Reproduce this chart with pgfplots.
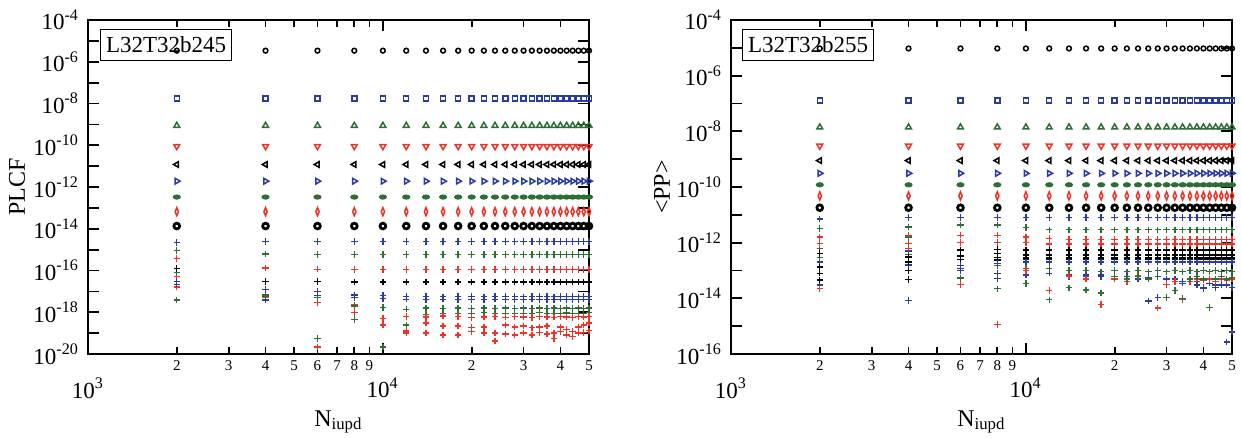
\documentclass[border=0pt]{standalone}
\usepackage{fontspec}
\setmainfont{Liberation Serif}
\usepackage{pgfplots}
\pgfplotsset{compat=1.18}
\usepackage{pgfplotstable}
\definecolor{gblue}{HTML}{2B3C9E}
\definecolor{ggreen}{HTML}{2E6E34}
\definecolor{gred}{HTML}{EE3228}

% PLCF, L32T32b245: constant levels a1..a9, scattered plus series p1..p11
\pgfplotstableread{
x a1 a2 a3 a4 a5 a6 a7 a8 a9 p1 p2 p3 p4 p5 p6 p7 p8 p9 p10 p11
2000 3.4e-6 1.7e-8 8.7e-10 8.9e-11 1.2e-11 1.9e-12 3.3e-13 6.6e-14 1.35e-14 2.2e-15 8.9e-16 3.8e-16 1.26e-16 3.0e-17 8.0e-17 5.0e-17 2.2e-17 3.9e-18 2.2e-17 1.6e-17
4000 3.4e-6 1.7e-8 8.7e-10 8.9e-11 1.2e-11 1.9e-12 3.3e-13 6.6e-14 1.35e-14 2.5e-15 6.3e-16 1.3e-16 3.0e-17 1.2e-17 6.8e-18 6.8e-18 3.9e-18 6.0e-18 6.8e-18 5.0e-18
6000 3.4e-6 1.7e-8 8.7e-10 8.9e-11 1.2e-11 1.9e-12 3.3e-13 6.6e-14 1.35e-14 2.5e-15 6.0e-16 1.15e-16 2.9e-17 1.0e-17 5.0e-18 5.0e-18 6.3e-18 5.6e-20 2.2e-20 3.0e-18
8000 3.4e-6 1.7e-8 8.7e-10 8.9e-11 1.2e-11 1.9e-12 3.3e-13 6.6e-14 1.35e-14 2.5e-15 6.0e-16 1.1e-16 2.8e-17 6.8e-18 2.0e-18 2.2e-18 5.0e-18 4.6e-19 2.0e-18 1.0e-18
10000 3.4e-6 1.7e-8 8.7e-10 8.9e-11 1.2e-11 1.9e-12 3.3e-13 6.6e-14 1.35e-14 2.5e-15 6.0e-16 1.1e-16 2.8e-17 6.5e-18 1.7e-18 5.0e-19 4.5e-18 2.2e-20 5.0e-19 2.5e-19
12000 3.4e-6 1.7e-8 8.7e-10 8.9e-11 1.2e-11 1.9e-12 3.3e-13 6.6e-14 1.35e-14 2.5e-15 6.0e-16 1.1e-16 2.8e-17 5.6e-18 1.4e-18 6.3e-19 4.2e-18 2.5e-19 1.26e-19 1.0e-19
14000 3.4e-6 1.7e-8 8.7e-10 8.9e-11 1.2e-11 1.9e-12 3.3e-13 6.6e-14 1.35e-14 2.5e-15 6.0e-16 1.1e-16 2.8e-17 5.8e-18 1.6e-18 6.0e-19 4.0e-18 8.0e-19 3.0e-19 1.0e-19
16000 3.4e-6 1.7e-8 8.7e-10 8.9e-11 1.2e-11 1.9e-12 3.3e-13 6.6e-14 1.35e-14 2.5e-15 6.0e-16 1.1e-16 2.8e-17 5.5e-18 1.5e-18 6.5e-19 4.2e-18 9.0e-19 2.2e-19 8.0e-20
18000 3.4e-6 1.7e-8 8.7e-10 8.9e-11 1.2e-11 1.9e-12 3.3e-13 6.6e-14 1.35e-14 2.5e-15 6.0e-16 1.1e-16 2.8e-17 5.6e-18 1.6e-18 6.3e-19 4.0e-18 8.5e-19 2.2e-19 8.0e-20
20000 3.4e-6 1.7e-8 8.7e-10 8.9e-11 1.2e-11 1.9e-12 3.3e-13 6.6e-14 1.35e-14 2.5e-15 6.0e-16 1.1e-16 2.8e-17 5.7e-18 1.5e-18 5.5e-19 4.1e-18 9.0e-19 1.9e-19 1.2e-19
22000 3.4e-6 1.7e-8 8.7e-10 8.9e-11 1.2e-11 1.9e-12 3.3e-13 6.6e-14 1.35e-14 2.5e-15 6.0e-16 1.1e-16 2.8e-17 5.5e-18 1.6e-18 6.0e-19 4.0e-18 9.5e-19 2.0e-19 1.0e-19
24000 3.4e-6 1.7e-8 8.7e-10 8.9e-11 1.2e-11 1.9e-12 3.3e-13 6.6e-14 1.35e-14 2.5e-15 6.0e-16 1.1e-16 2.8e-17 5.6e-18 1.5e-18 6.2e-19 4.2e-18 8.5e-19 4.2e-20 1.0e-19
26000 3.4e-6 1.7e-8 8.7e-10 8.9e-11 1.2e-11 1.9e-12 3.3e-13 6.6e-14 1.35e-14 2.5e-15 6.0e-16 1.1e-16 2.8e-17 5.8e-18 1.6e-18 5.8e-19 4.0e-18 9.0e-19 2.5e-19 9.0e-20
28000 3.4e-6 1.7e-8 8.7e-10 8.9e-11 1.2e-11 1.9e-12 3.3e-13 6.6e-14 1.35e-14 2.5e-15 6.0e-16 1.1e-16 2.8e-17 5.6e-18 1.5e-18 6.3e-19 4.1e-18 9.0e-19 2.0e-19 8.0e-20
30000 3.4e-6 1.7e-8 8.7e-10 8.9e-11 1.2e-11 1.9e-12 3.3e-13 6.6e-14 1.35e-14 2.5e-15 6.0e-16 1.1e-16 2.8e-17 5.5e-18 1.6e-18 6.0e-19 4.0e-18 8.5e-19 2.2e-19 1.0e-19
32000 3.4e-6 1.7e-8 8.7e-10 8.9e-11 1.2e-11 1.9e-12 3.3e-13 6.6e-14 1.35e-14 2.5e-15 6.0e-16 1.1e-16 2.8e-17 5.6e-18 1.5e-18 5.5e-19 4.2e-18 9.0e-19 1.8e-19 8.0e-20
34000 3.4e-6 1.7e-8 8.7e-10 8.9e-11 1.2e-11 1.9e-12 3.3e-13 6.6e-14 1.35e-14 2.5e-15 6.0e-16 1.1e-16 2.8e-17 5.7e-18 1.6e-18 6.3e-19 4.0e-18 9.5e-19 2.0e-19 1.1e-19
36000 3.4e-6 1.7e-8 8.7e-10 8.9e-11 1.2e-11 1.9e-12 3.3e-13 6.6e-14 1.35e-14 2.5e-15 6.0e-16 1.1e-16 2.8e-17 5.6e-18 1.5e-18 6.0e-19 4.1e-18 9.0e-19 2.2e-19 9.0e-20
38000 3.4e-6 1.7e-8 8.7e-10 8.9e-11 1.2e-11 1.9e-12 3.3e-13 6.6e-14 1.35e-14 2.5e-15 6.0e-16 1.1e-16 2.8e-17 5.5e-18 1.6e-18 5.8e-19 4.0e-18 8.8e-19 5.6e-20 1.0e-19
40000 3.4e-6 1.7e-8 8.7e-10 8.9e-11 1.2e-11 1.9e-12 3.3e-13 6.6e-14 1.35e-14 2.5e-15 6.0e-16 1.1e-16 2.8e-17 5.6e-18 1.5e-18 6.2e-19 4.2e-18 9.0e-19 2.0e-19 1.2e-19
42000 3.4e-6 1.7e-8 8.7e-10 8.9e-11 1.2e-11 1.9e-12 3.3e-13 6.6e-14 1.35e-14 2.5e-15 6.0e-16 1.1e-16 2.8e-17 5.7e-18 1.6e-18 6.0e-19 4.0e-18 9.2e-19 1.5e-19 8.0e-20
44000 3.4e-6 1.7e-8 8.7e-10 8.9e-11 1.2e-11 1.9e-12 3.3e-13 6.6e-14 1.35e-14 2.5e-15 6.0e-16 1.1e-16 2.8e-17 5.6e-18 1.5e-18 5.6e-19 4.1e-18 8.5e-19 1.2e-19 7.0e-20
46000 3.4e-6 1.7e-8 8.7e-10 8.9e-11 1.2e-11 1.9e-12 3.3e-13 6.6e-14 1.35e-14 2.5e-15 6.0e-16 1.1e-16 2.8e-17 5.5e-18 1.6e-18 6.2e-19 4.0e-18 9.0e-19 2.0e-19 1.0e-19
48000 3.4e-6 1.7e-8 8.7e-10 8.9e-11 1.2e-11 1.9e-12 3.3e-13 6.6e-14 1.35e-14 2.5e-15 6.0e-16 1.1e-16 2.8e-17 5.6e-18 1.5e-18 6.0e-19 4.2e-18 9.0e-19 2.5e-19 1.1e-19
50000 3.4e-6 1.7e-8 8.7e-10 8.9e-11 1.2e-11 1.9e-12 3.3e-13 6.6e-14 1.35e-14 2.5e-15 6.0e-16 1.1e-16 2.8e-17 5.7e-18 1.6e-18 6.3e-19 4.0e-18 9.5e-19 3.0e-19 1.3e-19
}\plcf

% <PP>, L32T32b255: constant levels b1..b9, scattered plus series q1..q14
\pgfplotstableread{
x b1 b2 b3 b4 b5 b6 b7 b8 b9 q1 q2 q3 q4 q5 q6 q7 q8 q9 q10 q11 q12 q13 q14
2000 9.5e-6 1.3e-7 1.4e-8 3.0e-9 8.9e-10 3.1e-10 1.2e-10 4.8e-11 1.8e-11 7.2e-12 3.2e-12 1.6e-12 9.3e-13 4.1e-13 1.35e-13 2.0e-13 8.0e-14 4.5e-14 3.0e-13 2.2e-14 3.0e-14 6.3e-13 6.3e-13
4000 9.5e-6 1.3e-7 1.4e-8 3.0e-9 8.9e-10 3.1e-10 1.2e-10 4.8e-11 1.8e-11 8.0e-12 3.7e-12 1.85e-12 9.3e-13 3.1e-13 2.0e-13 1.6e-13 1.0e-13 4.8e-14 3.7e-13 6.3e-13 8.5e-15 1.6e-12 5.0e-13
6000 9.5e-6 1.3e-7 1.4e-8 3.0e-9 8.9e-10 3.1e-10 1.2e-10 4.8e-11 1.8e-11 8.0e-12 4.3e-12 1.85e-12 1.0e-12 5.4e-13 3.5e-13 1.55e-13 3.2e-13 2.5e-13 5.4e-14 3.2e-14 1.2e-13 2.5e-13 1.0e-13
8000 9.5e-6 1.3e-7 1.4e-8 3.0e-9 8.9e-10 3.1e-10 1.2e-10 4.8e-11 1.8e-11 8.0e-12 4.3e-12 1.85e-12 1.0e-12 5.6e-13 4.0e-13 1.8e-13 3.0e-13 2.4e-13 2.2e-14 1.15e-15 5.1e-14 1.5e-13 8.0e-14
10000 9.5e-6 1.3e-7 1.4e-8 3.0e-9 8.9e-10 3.1e-10 1.2e-10 4.8e-11 1.8e-11 8.0e-12 3.5e-12 1.6e-12 1.0e-12 5.4e-13 3.6e-13 2.0e-13 2.9e-13 2.6e-13 3.4e-14 1.0e-13 1.0e-13 1.2e-13 7.0e-14
12000 9.5e-6 1.3e-7 1.4e-8 3.0e-9 8.9e-10 3.1e-10 1.2e-10 4.8e-11 1.8e-11 8.0e-12 2.9e-12 1.4e-12 9.0e-13 5.4e-13 3.6e-13 2.0e-13 2.9e-13 2.6e-13 8.9e-15 1.95e-14 8.0e-14 1.2e-13 8.0e-14
14000 9.5e-6 1.3e-7 1.4e-8 3.0e-9 8.9e-10 3.1e-10 1.2e-10 4.8e-11 1.8e-11 8.0e-12 2.9e-12 1.3e-12 9.0e-13 5.4e-13 3.6e-13 2.0e-13 2.9e-13 2.6e-13 2.4e-14 6.3e-14 6.0e-14 1.0e-13 7.0e-14
16000 9.5e-6 1.3e-7 1.4e-8 3.0e-9 8.9e-10 3.1e-10 1.2e-10 4.8e-11 1.8e-11 8.0e-12 2.9e-12 1.3e-12 9.0e-13 5.4e-13 3.6e-13 2.0e-13 2.9e-13 2.6e-13 2.0e-14 5.0e-14 7.0e-14 1.0e-13 6.0e-14
18000 9.5e-6 1.3e-7 1.4e-8 3.0e-9 8.9e-10 3.1e-10 1.2e-10 4.8e-11 1.8e-11 8.0e-12 2.9e-12 1.3e-12 9.0e-13 5.4e-13 3.6e-13 2.0e-13 2.9e-13 2.6e-13 1.55e-14 6.0e-15 6.0e-14 9.0e-14 7.0e-14
20000 9.5e-6 1.3e-7 1.4e-8 3.0e-9 8.9e-10 3.1e-10 1.2e-10 4.8e-11 1.8e-11 8.0e-12 2.9e-12 1.3e-12 9.0e-13 5.4e-13 3.6e-13 2.0e-13 2.9e-13 2.6e-13 6.0e-14 5.0e-14 5.0e-14 1.0e-13 6.0e-14
22000 9.5e-6 1.3e-7 1.4e-8 3.0e-9 8.9e-10 3.1e-10 1.2e-10 4.8e-11 1.8e-11 8.0e-12 2.9e-12 1.3e-12 9.0e-13 5.4e-13 3.6e-13 2.0e-13 2.9e-13 2.6e-13 5.0e-14 4.0e-14 6.0e-14 9.0e-14 5.0e-14
24000 9.5e-6 1.3e-7 1.4e-8 3.0e-9 8.9e-10 3.1e-10 1.2e-10 4.8e-11 1.8e-11 8.0e-12 2.9e-12 1.3e-12 9.0e-13 5.4e-13 3.6e-13 2.0e-13 2.9e-13 2.6e-13 6.0e-14 6.3e-14 5.0e-14 1.0e-13 6.0e-14
26000 9.5e-6 1.3e-7 1.4e-8 3.0e-9 8.9e-10 3.1e-10 1.2e-10 4.8e-11 1.8e-11 8.0e-12 2.9e-12 1.3e-12 9.0e-13 5.4e-13 3.6e-13 2.0e-13 2.9e-13 2.6e-13 5.0e-14 5.0e-14 8.0e-15 9.0e-14 5.5e-14
28000 9.5e-6 1.3e-7 1.4e-8 3.0e-9 8.9e-10 3.1e-10 1.2e-10 4.8e-11 1.8e-11 8.0e-12 2.9e-12 1.3e-12 9.0e-13 5.4e-13 3.6e-13 2.0e-13 2.9e-13 2.6e-13 6.0e-14 4.5e-15 1.07e-14 1.0e-13 6.0e-14
30000 9.5e-6 1.3e-7 1.4e-8 3.0e-9 8.9e-10 3.1e-10 1.2e-10 4.8e-11 1.8e-11 8.0e-12 2.9e-12 1.3e-12 9.0e-13 5.4e-13 3.6e-13 2.0e-13 2.9e-13 2.6e-13 1.07e-14 3.2e-14 5.0e-14 9.0e-14 5.0e-14
32000 9.5e-6 1.3e-7 1.4e-8 3.0e-9 8.9e-10 3.1e-10 1.2e-10 4.8e-11 1.8e-11 8.0e-12 2.9e-12 1.3e-12 9.0e-13 5.4e-13 3.6e-13 2.0e-13 2.9e-13 2.6e-13 1.95e-14 4.0e-14 4.0e-14 1.0e-13 5.0e-14
34000 9.5e-6 1.3e-7 1.4e-8 3.0e-9 8.9e-10 3.1e-10 1.2e-10 4.8e-11 1.8e-11 8.0e-12 2.9e-12 1.3e-12 9.0e-13 5.4e-13 3.6e-13 2.0e-13 2.9e-13 2.6e-13 1.0e-14 8.9e-15 3.5e-14 9.0e-14 4.0e-14
36000 9.5e-6 1.3e-7 1.4e-8 3.0e-9 8.9e-10 3.1e-10 1.2e-10 4.8e-11 1.8e-11 8.0e-12 2.9e-12 1.3e-12 9.0e-13 5.4e-13 3.6e-13 2.0e-13 2.9e-13 2.6e-13 5.0e-14 4.0e-14 4.0e-14 1.0e-13 5.0e-14
38000 9.5e-6 1.3e-7 1.4e-8 3.0e-9 8.9e-10 3.1e-10 1.2e-10 4.8e-11 1.8e-11 8.0e-12 2.9e-12 1.3e-12 9.0e-13 5.4e-13 3.6e-13 2.0e-13 2.9e-13 2.6e-13 6.0e-14 5.0e-14 3.0e-14 9.0e-14 4.0e-14
40000 9.5e-6 1.3e-7 1.4e-8 3.0e-9 8.9e-10 3.1e-10 1.2e-10 4.8e-11 1.8e-11 8.0e-12 2.9e-12 1.3e-12 9.0e-13 5.4e-13 3.6e-13 2.0e-13 2.9e-13 2.6e-13 5.0e-14 4.5e-14 2.2e-14 1.0e-13 2.5e-14
42000 9.5e-6 1.3e-7 1.4e-8 3.0e-9 8.9e-10 3.1e-10 1.2e-10 4.8e-11 1.8e-11 8.0e-12 2.9e-12 1.3e-12 9.0e-13 5.4e-13 3.6e-13 2.0e-13 2.9e-13 2.6e-13 4.6e-15 5.0e-14 3.5e-14 9.0e-14 3.5e-14
44000 9.5e-6 1.3e-7 1.4e-8 3.0e-9 8.9e-10 3.1e-10 1.2e-10 4.8e-11 1.8e-11 8.0e-12 2.9e-12 1.3e-12 9.0e-13 5.4e-13 3.6e-13 2.0e-13 2.9e-13 2.6e-13 5.0e-14 4.0e-14 3.0e-14 1.0e-13 2.5e-14
46000 9.5e-6 1.3e-7 1.4e-8 3.0e-9 8.9e-10 3.1e-10 1.2e-10 4.8e-11 1.8e-11 8.0e-12 2.9e-12 1.3e-12 9.0e-13 5.4e-13 3.6e-13 2.0e-13 2.9e-13 2.6e-13 6.0e-14 5.0e-14 3.1e-14 9.0e-14 3.0e-14
48000 9.5e-6 1.3e-7 1.4e-8 3.0e-9 8.9e-10 3.1e-10 1.2e-10 4.8e-11 1.8e-11 8.0e-12 2.9e-12 1.3e-12 9.0e-13 5.4e-13 3.6e-13 2.0e-13 2.9e-13 2.6e-13 5.0e-14 4.5e-14 2.7e-16 1.0e-13 3.0e-14
50000 9.5e-6 1.3e-7 1.4e-8 3.0e-9 8.9e-10 3.1e-10 1.2e-10 4.8e-11 1.8e-11 8.0e-12 2.9e-12 1.3e-12 9.0e-13 5.4e-13 3.6e-13 2.0e-13 2.9e-13 2.6e-13 5.5e-14 5.0e-14 6.2e-16 9.0e-14 2.5e-14
}\pp

\pgfplotsset{
  s1/.style={only marks, black, mark=o, mark size=0.95pt, mark options={line width=0.6pt}},
  s2/.style={only marks, gblue, mark=square, mark size=1.0pt, mark options={line width=0.6pt}},
  s3/.style={only marks, ggreen, mark=triangle, mark size=1.35pt, mark options={line width=0.6pt}},
  s4/.style={only marks, gred, mark=triangle, mark size=1.35pt, mark options={rotate=180, line width=0.6pt}},
  s5/.style={only marks, black, mark=triangle, mark size=1.3pt, mark options={rotate=90, line width=0.6pt}},
  s6/.style={only marks, gblue, mark=triangle, mark size=1.3pt, mark options={rotate=-90, line width=0.6pt}},
  s7/.style={only marks, ggreen, mark=*, mark size=1.05pt, mark options={xscale=1.35, yscale=0.8}},
  s8/.style={only marks, gred, mark=diamond, mark size=1.6pt, mark options={xscale=0.55, line width=0.6pt}},
  s9/.style={only marks, black, mark=o, mark size=1.15pt, mark options={line width=1.1pt}},
  pl/.style={only marks, #1, mark=+, mark size=1.3pt, mark options={line width=0.55pt}},
}
\tikzset{gtag/.style={draw, line width=0.6pt, fill=white, inner xsep=2.2pt, inner ysep=3pt, font=\fontsize{9.2}{10}\selectfont}}

\begin{document}
\begin{tikzpicture}
\path[use as bounding box] (-35.2pt,-33.2pt) rectangle (461.2pt,141.6pt);

\begin{axis}[
  scale only axis, width=200.4pt, height=133.6pt,
  xmode=log, ymode=log, xmin=1000, xmax=50000,
  at={(0pt,0pt)}, anchor=south west,
  clip=false,
  axis line style={line width=0.8pt},
  tick style={line width=0.7pt, black},
  major tick length=4.4pt, minor tick length=0pt,
  xtick={1000,10000},
  xticklabels={10\textsuperscript{3},10\textsuperscript{4}},
  xticklabel style={anchor=center, yshift=-13.6pt, font=\fontsize{9.2}{10}\selectfont},
  extra x ticks={2000,3000,4000,5000,6000,7000,8000,9000,20000,30000,40000,50000},
  extra x tick labels={2,3,4,5,6,7,8,9,2,3,4,5},
  extra x tick style={major tick length=2.8pt,
    xticklabel style={yshift=8.8pt, font=\fontsize{6}{7}\selectfont}},
  yticklabel style={font=\fontsize{9.2}{10}\selectfont},
  xlabel={N\textsubscript{iupd}},
  xlabel style={at={(rel axis cs:0.5,0)}, anchor=center, yshift=-27.2pt, font=\fontsize{9.6}{10}\selectfont},
  ymin=1e-20, ymax=1e-4,
  ytick={1e-20,1e-19,1e-18,1e-17,1e-16,1e-15,1e-14,1e-13,1e-12,1e-11,1e-10,1e-9,1e-8,1e-7,1e-6,1e-5,1e-4},
  yticklabels={10\textsuperscript{-20},,10\textsuperscript{-18},,10\textsuperscript{-16},,10\textsuperscript{-14},,10\textsuperscript{-12},,10\textsuperscript{-10},,10\textsuperscript{-8},,10\textsuperscript{-6},,10\textsuperscript{-4}},
  ylabel={PLCF},
  ylabel style={at={(rel axis cs:0,0.5)}, anchor=center, yshift=28.4pt, font=\fontsize{9.6}{10}\selectfont},
]
\addplot[pl=gred] table[y=p11]{\plcf};
\addplot[pl=gred] table[y=p10]{\plcf};
\addplot[pl=ggreen] table[y=p9]{\plcf};
\addplot[pl=gblue] table[y=p8]{\plcf};
\addplot[pl=gred] table[y=p7]{\plcf};
\addplot[pl=ggreen] table[y=p6]{\plcf};
\addplot[pl=gblue] table[y=p5]{\plcf};
\addplot[pl=black] table[y=p4]{\plcf};
\addplot[pl=gred] table[y=p3]{\plcf};
\addplot[pl=ggreen] table[y=p2]{\plcf};
\addplot[pl=gblue] table[y=p1]{\plcf};
\addplot[s1] table[y=a1]{\plcf};
\addplot[s2] table[y=a2]{\plcf};
\addplot[s3] table[y=a3]{\plcf};
\addplot[s4] table[y=a4]{\plcf};
\addplot[s5] table[y=a5]{\plcf};
\addplot[s6] table[y=a6]{\plcf};
\addplot[s7] table[y=a7]{\plcf};
\addplot[s8] table[y=a8]{\plcf};
\addplot[s9] table[y=a9]{\plcf};
\node[gtag] at (rel axis cs:0.156,0.925) {L32T32b245};
\end{axis}

\begin{axis}[
  scale only axis, width=200.4pt, height=133.6pt,
  xmode=log, ymode=log, xmin=1000, xmax=50000,
  at={(257.2pt,0pt)}, anchor=south west,
  clip=false,
  axis line style={line width=0.8pt},
  tick style={line width=0.7pt, black},
  major tick length=4.4pt, minor tick length=0pt,
  xtick={1000,10000},
  xticklabels={10\textsuperscript{3},10\textsuperscript{4}},
  xticklabel style={anchor=center, yshift=-13.6pt, font=\fontsize{9.2}{10}\selectfont},
  extra x ticks={2000,3000,4000,5000,6000,7000,8000,9000,20000,30000,40000,50000},
  extra x tick labels={2,3,4,5,6,7,8,9,2,3,4,5},
  extra x tick style={major tick length=2.8pt,
    xticklabel style={yshift=8.8pt, font=\fontsize{6}{7}\selectfont}},
  yticklabel style={font=\fontsize{9.2}{10}\selectfont},
  xlabel={N\textsubscript{iupd}},
  xlabel style={at={(rel axis cs:0.5,0)}, anchor=center, yshift=-27.2pt, font=\fontsize{9.6}{10}\selectfont},
  ymin=1e-16, ymax=1e-4,
  ytick={1e-16,1e-15,1e-14,1e-13,1e-12,1e-11,1e-10,1e-9,1e-8,1e-7,1e-6,1e-5,1e-4},
  yticklabels={10\textsuperscript{-16},,10\textsuperscript{-14},,10\textsuperscript{-12},,10\textsuperscript{-10},,10\textsuperscript{-8},,10\textsuperscript{-6},,10\textsuperscript{-4}},
  ylabel={\textless PP\textgreater},
  ylabel style={at={(rel axis cs:0,0.5)}, anchor=center, yshift=27.6pt, font=\fontsize{9.6}{10}\selectfont},
]
\addplot[pl=gblue] table[y=q14]{\pp};
\addplot[pl=ggreen] table[y=q13]{\pp};
\addplot[pl=gblue] table[y=q12]{\pp};
\addplot[pl=gred] table[y=q11]{\pp};
\addplot[pl=ggreen] table[y=q10]{\pp};
\addplot[pl=black] table[y=q9]{\pp};
\addplot[pl=black] table[y=q8]{\pp};
\addplot[pl=gblue] table[y=q7]{\pp};
\addplot[pl=black] table[y=q6]{\pp};
\addplot[pl=black] table[y=q5]{\pp};
\addplot[pl=gred] table[y=q4]{\pp};
\addplot[pl=gred] table[y=q3]{\pp};
\addplot[pl=ggreen] table[y=q2]{\pp};
\addplot[pl=gblue] table[y=q1]{\pp};
\addplot[s1] table[y=b1]{\pp};
\addplot[s2] table[y=b2]{\pp};
\addplot[s3] table[y=b3]{\pp};
\addplot[s4] table[y=b4]{\pp};
\addplot[s5] table[y=b5]{\pp};
\addplot[s6] table[y=b6]{\pp};
\addplot[s7] table[y=b7]{\pp};
\addplot[s8] table[y=b8]{\pp};
\addplot[s9] table[y=b9]{\pp};
\node[gtag] at (rel axis cs:0.154,0.925) {L32T32b255};
\end{axis}
\end{tikzpicture}
\end{document}
